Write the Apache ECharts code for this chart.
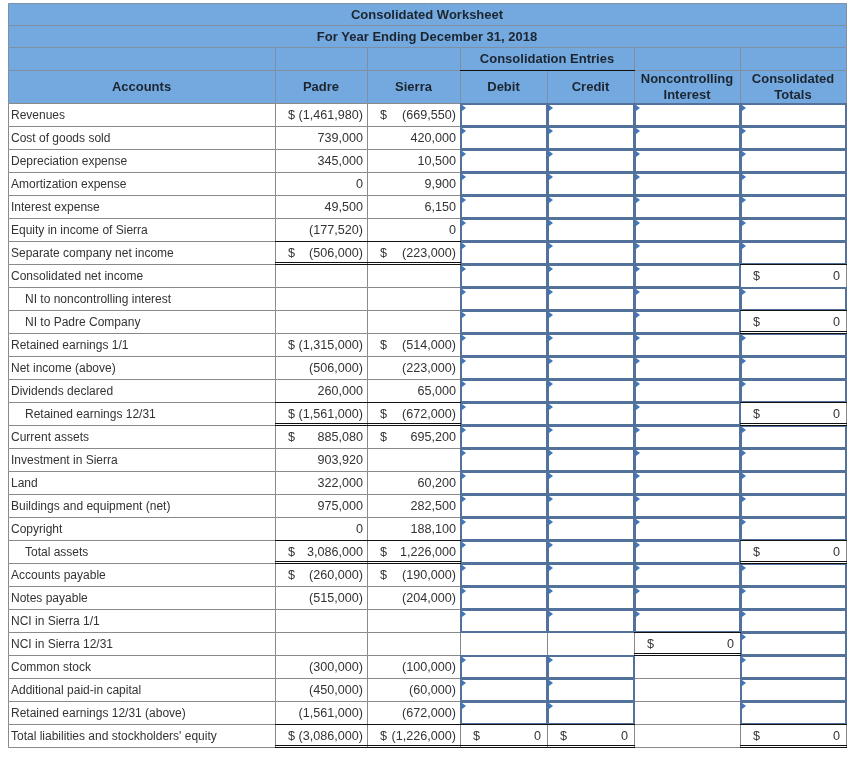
<!DOCTYPE html>
<html><head><meta charset="utf-8">
<script src="https://cdn.jsdelivr.net/npm/echarts@6/dist/echarts.min.js"></script>
<style>html,body{margin:0;padding:0;background:#fff}#c{width:862px;height:758px}</style>
</head><body><div id="c"></div>
<script>
// ---------- DATA ----------
const title = 'Consolidated Worksheet';
const subtitle = 'For Year Ending December 31, 2018';
const groupHeader = 'Consolidation Entries';
const columnHeaders = ['Accounts', 'Padre', 'Sierra', 'Debit', 'Credit', 'Noncontrolling\nInterest', 'Consolidated\nTotals'];
const accounts = ['Revenues', 'Cost of goods sold', 'Depreciation expense', 'Amortization expense', 'Interest expense',
  'Equity in income of Sierra', 'Separate company net income', 'Consolidated net income', 'NI to noncontrolling interest',
  'NI to Padre Company', 'Retained earnings 1/1', 'Net income (above)', 'Dividends declared', 'Retained earnings 12/31',
  'Current assets', 'Investment in Sierra', 'Land', 'Buildings and equipment (net)', 'Copyright', 'Total assets',
  'Accounts payable', 'Notes payable', 'NCI in Sierra 1/1', 'NCI in Sierra 12/31', 'Common stock',
  'Additional paid-in capital', 'Retained earnings 12/31 (above)', "Total liabilities and stockholders' equity"];
const padre = [-1461980, 739000, 345000, 0, 49500, -177520, -506000, null, null, null, -1315000, -506000, 260000, -1561000,
  885080, 903920, 322000, 975000, 0, 3086000, -260000, -515000, null, null, -300000, -450000, -1561000, -3086000];
const sierra = [-669550, 420000, 10500, 9900, 6150, 0, -223000, null, null, null, -514000, -223000, 65000, -672000,
  695200, null, 60200, 282500, 188100, 1226000, -190000, -204000, null, null, -100000, -60000, -672000, -1226000];
const dollarRows = [0, 6, 10, 13, 14, 19, 20, 27];
// worksheet columns: 'in' = entry box, number = computed total, null = empty cell
const debit = ['in','in','in','in','in','in','in','in','in','in','in','in','in','in','in','in','in','in','in','in','in','in','in', null, 'in','in','in', 0];
const credit = ['in','in','in','in','in','in','in','in','in','in','in','in','in','in','in','in','in','in','in','in','in','in','in', null, 'in','in','in', 0];
const nci = ['in','in','in','in','in','in','in','in','in','in','in','in','in','in','in','in','in','in','in','in','in','in','in', 0, null, null, null, null];
const consolidated = ['in','in','in','in','in','in','in', 0, 'in', 0, 'in','in','in', 0, 'in','in','in','in','in', 0, 'in','in','in','in','in','in','in', 0];

// ---------- LAYOUT / STYLE ----------
const colEdges = [0, 267, 359, 452, 539, 626, 732, 838];
const headEdges = [0, 22, 44, 67, 100];
const ROW_H = 23, BODY_TOP = 100;
const indentRows = [8, 9, 13, 19];
const ruledRows = [6, 13, 19, 27];
const singleRuleTotals = [7];
const FONT = "'Liberation Sans', Arial, sans-serif";
const HEAD_BG = '#73a9df', HEAD_LINE = '#7f90a5', BODY_LINE = '#8a8a8a';
const BOX = '#52719b', TRI = '#3f76c0', TXT = '#333', HTXT = '#1c2530';

const cells = [];
function add(c0, c1, y0, y1, props) {
  cells.push(Object.assign({x0: colEdges[c0], x1: colEdges[c1], y0: y0, y1: y1}, props));
}
add(0, 7, headEdges[0], headEdges[1], {kind: 'head', text: title});
add(0, 7, headEdges[1], headEdges[2], {kind: 'head', text: subtitle});
[[0,1],[1,2],[2,3],[3,5],[5,6],[6,7]].forEach(([a, b]) =>
  add(a, b, headEdges[2], headEdges[3], {kind: 'head', text: a === 3 ? groupHeader : '', ruleBelow: a === 3}));
columnHeaders.forEach((h, i) => add(i, i + 1, headEdges[3], headEdges[4], {kind: 'head', text: h}));
accounts.forEach((name, r) => {
  const y0 = BODY_TOP + r * ROW_H, y1 = y0 + ROW_H;
  add(0, 1, y0, y1, {kind: 'label', text: name, indent: indentRows.includes(r)});
  [padre, sierra].forEach((arr, k) => add(1 + k, 2 + k, y0, y1, {
    kind: 'num', value: arr[r], dollar: dollarRows.includes(r), pad: 4,
    topRule: ruledRows.includes(r), doubleRule: ruledRows.includes(r)}));
  [debit, credit, nci, consolidated].forEach((arr, k) => {
    const v = arr[r];
    add(3 + k, 4 + k, y0, y1, v === 'in' ? {kind: 'input'} : v === null ? {kind: 'blank'} :
      {kind: 'num', value: v, dollar: true, pad: 6, topRule: true, doubleRule: !singleRuleTotals.includes(r)});
  });
});

function fmt(v) {
  if (v === null || v === undefined) return '';
  const s = Math.abs(v).toLocaleString('en-US');
  return v < 0 ? '(' + s + ')' : s;
}

function renderItem(params, api) {
  const d = cells[params.dataIndex];
  const p0 = api.coord([api.value(0), api.value(1)]);
  const p1 = api.coord([api.value(2), api.value(3)]);
  const X0 = Math.round(p0[0]), Y0 = Math.round(p0[1]), X1 = Math.round(p1[0]), Y1 = Math.round(p1[1]);
  const cy = (Y0 + Y1) / 2;
  const head = d.kind === 'head';
  const ch = [];
  ch.push({type: 'rect', z2: 0, shape: {x: X0 + 0.5, y: Y0 + 0.5, width: X1 - X0, height: Y1 - Y0},
    style: {fill: head ? HEAD_BG : '#fff', stroke: head ? HEAD_LINE : BODY_LINE, lineWidth: 1}});
  if (head) {
    if (d.text) ch.push({type: 'text', z2: 20, style: {text: d.text, x: (X0 + X1) / 2, y: cy + 1,
      align: 'center', verticalAlign: 'middle', font: 'bold 13px ' + FONT, fill: HTXT, lineHeight: 16}});
    if (d.ruleBelow) ch.push({type: 'line', z2: 10, shape: {x1: X0, y1: Y1 + 0.5, x2: X1 + 1, y2: Y1 + 0.5},
      style: {stroke: '#111', lineWidth: 1}});
  } else if (d.kind === 'label') {
    ch.push({type: 'text', z2: 20, style: {text: d.text, x: X0 + (d.indent ? 17 : 3), y: cy + 1,
      align: 'left', verticalAlign: 'middle', font: '12px ' + FONT, fill: TXT}});
  } else if (d.kind === 'input') {
    ch.push({type: 'rect', z2: 5, shape: {x: X0 + 1, y: Y0 + 1, width: X1 - X0 - 1, height: Y1 - Y0 - 1},
      style: {fill: '#fff', stroke: BOX, lineWidth: 2}});
    ch.push({type: 'polygon', z2: 6, shape: {points: [[X0 + 2, Y0 + 2], [X0 + 6, Y0 + 5], [X0 + 2, Y0 + 8]]},
      style: {fill: TRI}});
  } else if (d.kind === 'num') {
    if (d.value !== null) {
      ch.push({type: 'text', z2: 20, style: {text: fmt(d.value), x: X1 - d.pad, y: cy + 1,
        align: 'right', verticalAlign: 'middle', font: '12.6px ' + FONT, fill: TXT}});
      if (d.dollar) ch.push({type: 'text', z2: 20, style: {text: '$', x: X0 + 13, y: cy + 1,
        align: 'left', verticalAlign: 'middle', font: '12.6px ' + FONT, fill: TXT}});
    }
    if (d.topRule) ch.push({type: 'line', z2: 10, shape: {x1: X0, y1: Y0 + 0.5, x2: X1 + 1, y2: Y0 + 0.5},
      style: {stroke: '#111', lineWidth: 1}});
    if (d.doubleRule) {
      ch.push({type: 'line', z2: 10, shape: {x1: X0, y1: Y1 - 1.5, x2: X1 + 1, y2: Y1 - 1.5}, style: {stroke: '#111', lineWidth: 1}});
      ch.push({type: 'line', z2: 10, shape: {x1: X0, y1: Y1 + 0.5, x2: X1 + 1, y2: Y1 + 0.5}, style: {stroke: '#111', lineWidth: 1}});
    }
  }
  return {type: 'group', children: ch};
}

const chart = echarts.init(document.getElementById('c'), null, {renderer: 'canvas'});
chart.setOption({
  animation: false,
  backgroundColor: '#fff',
  grid: {left: 8, top: 3, width: 838, height: 745},
  xAxis: {type: 'value', min: 0, max: 838, show: false},
  yAxis: {type: 'value', min: 0, max: 745, inverse: true, show: false},
  series: [{
    type: 'custom', renderItem: renderItem, silent: true, clip: false,
    data: cells.map(c => [c.x0, c.y0, c.x1, c.y1]),
    encode: {x: [0, 2], y: [1, 3]}
  }]
});
</script>
</body></html>
